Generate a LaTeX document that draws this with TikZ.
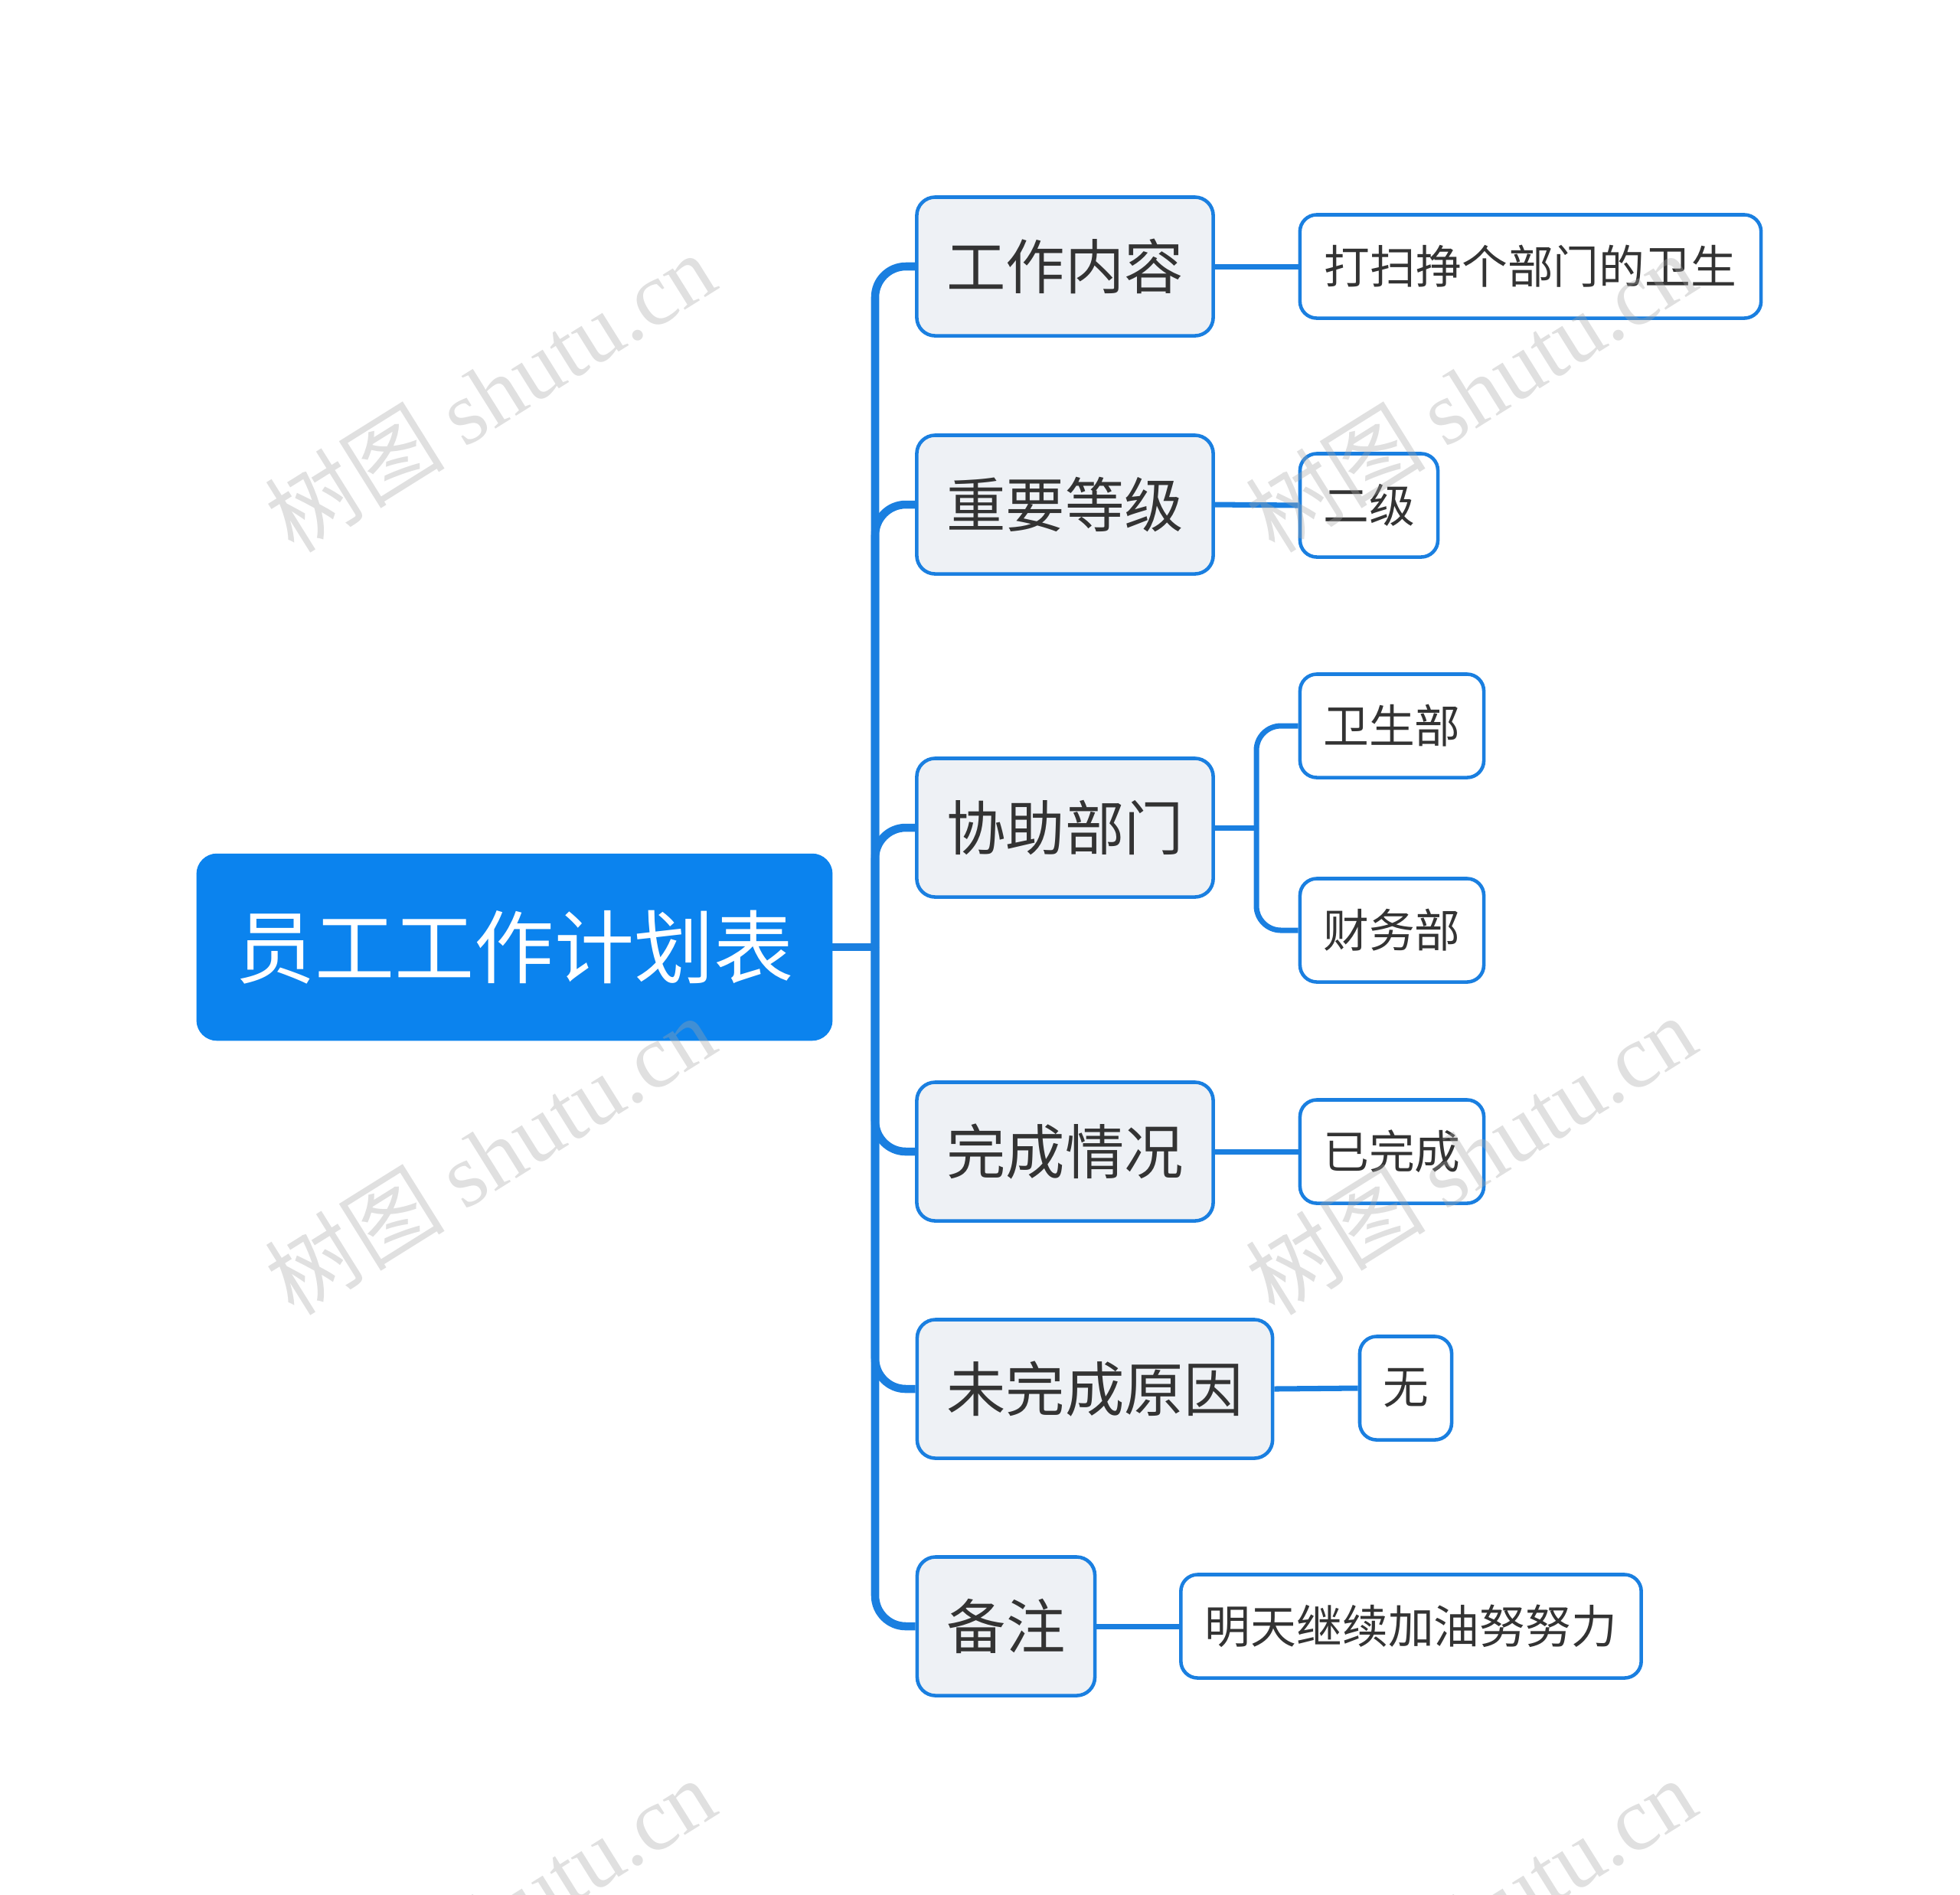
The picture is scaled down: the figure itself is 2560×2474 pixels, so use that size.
\documentclass[tikz,border=0pt]{standalone}
\usepackage{fontspec}
\setmainfont{Noto Sans CJK SC}
\newfontfamily\wmlatin{Liberation Serif}
\definecolor{mblue}{HTML}{0B83EE}
\definecolor{lblue}{HTML}{1A7FE0}
\definecolor{lfill}{HTML}{EEF1F5}
\definecolor{ttext}{HTML}{333333}
\tikzset{
  rootbox/.style={fill=mblue, draw=mblue, rounded corners=0.26cm, text=white, minimum width=8.29cm, minimum height=2.43cm, inner sep=0pt, font=\fontsize{29.6}{34}\selectfont},
  lonebox/.style={fill=lfill, draw=lblue, line width=1.3pt, rounded corners=0.24cm, text=ttext, minimum height=1.81cm, inner sep=0pt, font=\fontsize{22}{26}\selectfont},
  ltwobox/.style={fill=white, draw=lblue, line width=1.3pt, rounded corners=0.22cm, text=ttext, minimum height=1.35cm, inner sep=0pt, font=\fontsize{17}{20}\selectfont},
  trunk/.style={draw=lblue, line width=3pt, rounded corners=0.4cm},
  twig/.style={draw=lblue, line width=2pt, rounded corners=0.32cm},
  wm/.style={text=gray!70, text opacity=0.35, font=\fontsize{33.5}{38}\selectfont, inner sep=0pt}
}
\begin{document}
\begin{tikzpicture}[x=0.01cm,y=-0.01cm]
\useasboundingbox (0,0) rectangle (2560,2474);
% root
\node[rootbox] (root) at (672,1237) {员工工作计划表};
% level 1
\node[lonebox, minimum width=3.87cm] (n1) at (1391,348) {工作内容};
\node[lonebox, minimum width=3.87cm] (n2) at (1391,659) {重要等级};
\node[lonebox, minimum width=3.87cm] (n3) at (1391,1081) {协助部门};
\node[lonebox, minimum width=3.87cm] (n4) at (1391,1504) {完成情况};
\node[lonebox, minimum width=4.64cm] (n5) at (1430,1814) {未完成原因};
\node[lonebox, minimum width=2.32cm] (n6) at (1314,2124) {备注};
% level 2
\node[ltwobox, minimum width=6.02cm] (a1) at (1999,348) {打扫挣个部门的卫生};
\node[ltwobox, minimum width=1.80cm] (b1) at (1788,660) {二级};
\node[ltwobox, minimum width=2.40cm] (c1) at (1818,948) {卫生部};
\node[ltwobox, minimum width=2.40cm] (c2) at (1818,1215) {财务部};
\node[ltwobox, minimum width=2.40cm] (d1) at (1818,1504) {已完成};
\node[ltwobox, minimum width=1.20cm] (e1) at (1836,1813) {无};
\node[ltwobox, minimum width=6.01cm] (f1) at (1843,2124) {明天继续加油努努力};
% connectors root
\coordinate (j) at (1143,1237);
\draw[trunk] (root.east) -- (j);
\foreach \n in {n1,n2,n3,n4,n5,n6} {
  \draw[trunk] (j) |- (\n.west);
}
% level 2 connectors
\draw[twig] (n1.east) -- (a1.west);
\draw[twig] (n2.east) -- (b1.west);
\coordinate (jj) at (1641,1081);
\draw[twig] (n3.east) -- (jj);
\draw[twig] (jj) |- (c1.west);
\draw[twig] (jj) |- (c2.west);
\draw[twig] (n4.east) -- (d1.west);
\draw[twig] (n5.east) -- (e1.west);
\draw[twig] (n6.east) -- (f1.west);
% watermarks
\foreach \wx/\wy [count=\i] in {640/512, 640/1508, 1921/512, 1921/1508, 640/2504, 1921/2504} {
  \node[wm, rotate=32] (wm\i) at (\wx,\wy) {树图 {\wmlatin shutu.cn}};
}
\end{tikzpicture}
\end{document}
